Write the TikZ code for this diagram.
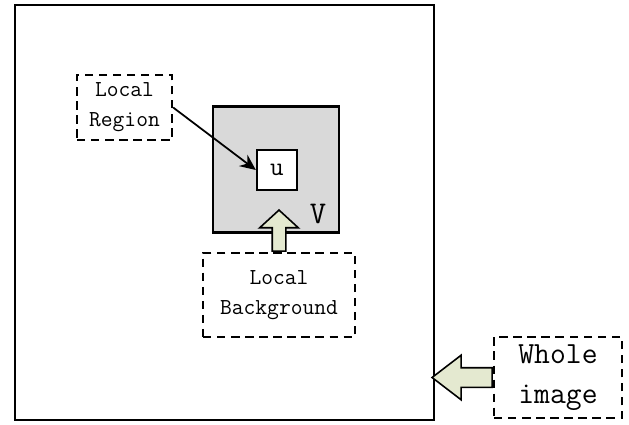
\documentclass[tikz,border=0pt]{standalone}
\usepackage{xcolor}
\usetikzlibrary{shapes.arrows,arrows.meta}

\definecolor{boxgray}{RGB}{217,217,217}
\definecolor{arrowfill}{RGB}{228,233,208}

\tikzset{
  dashbox/.style={draw, dash pattern=on 4.8pt off 3.2pt, line width=1.3pt, align=center,
    font=\ttfamily\fontsize{13}{17}\selectfont},
  fatarrow/.style={single arrow, draw, fill=arrowfill, line width=0.9pt, inner sep=0pt,
    text depth=0pt}
}

\begin{document}
\begin{tikzpicture}
       \useasboundingbox (0,0) rectangle (12.58,8.48);

       \node[draw, line width=1.3pt, minimum width=8.38cm, minimum height=8.3cm] (img) at (4.49,4.23) {};

       \node[draw, line width=1.3pt, fill=boxgray, minimum size=2.52cm] (V) at (5.52,5.09) {};
       \node[draw, line width=1.3pt, fill=white, minimum size=0.8cm,
             font=\ttfamily\fontsize{15}{16}\selectfont] (u) at (5.54,5.08) {u};
       \node[font=\ttfamily\fontsize{18}{19}\selectfont] (vlab) at (6.36,4.2) {V};

       \node[dashbox, minimum width=1.9cm, minimum height=1.3cm] (region) at (2.49,6.33) {Local\\Region};
       \node[dashbox, minimum width=3.04cm, minimum height=1.68cm] (bg) at (5.58,2.58) {Local\\Background};
       \node[dashbox, minimum width=2.56cm, minimum height=1.62cm,
             font=\ttfamily\fontsize{17.5}{23}\selectfont] (whole) at (11.16,0.93) {Whole\\image};

       \draw [line width=1pt, -{Stealth[length=9pt,width=8pt]}] (region.east) -- (u.west);

       \node[fatarrow, rotate=90, anchor=tail, text height=0.24cm, minimum height=0.82cm,
             minimum width=0.52cm, single arrow tip angle=95] (uparrow) at (bg.north) {};
       \node[fatarrow, rotate=180, anchor=tail, text height=0.36cm, minimum height=1.2cm,
             minimum width=0.84cm, single arrow tip angle=75] (leftarrow) at (whole.west) {};
    \end{tikzpicture}
\end{document}
